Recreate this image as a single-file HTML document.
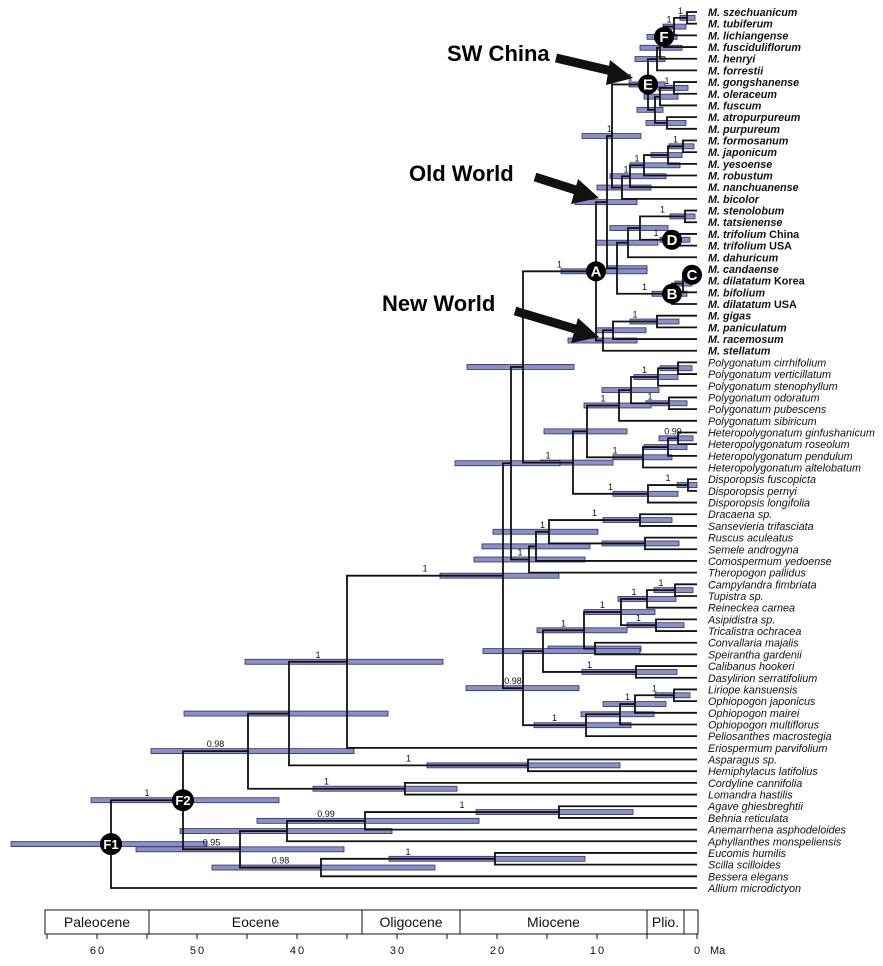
<!DOCTYPE html>
<html><head><meta charset="utf-8"><style>
html,body{margin:0;padding:0;background:#fff;}
svg{display:block;font-family:"Liberation Sans",sans-serif;}
</style></head><body>
<svg id="chart" width="883" height="966" viewBox="0 0 883 966" xmlns="http://www.w3.org/2000/svg">
<g id="bars"></g>
<g id="branches"></g>
<g id="supports"></g>
<g id="tips"></g>
<g id="circles"></g>
<g id="annot">
  <text x="447" y="61" font-size="22" font-weight="bold">SW China</text>
  <text x="409" y="181" font-size="22" font-weight="bold">Old World</text>
  <text x="382" y="311" font-size="22" font-weight="bold">New World</text>
  <g><line x1="556" y1="58" x2="616" y2="72" stroke="#111" stroke-width="9"/><polygon points="633,78 610,60 606,85" fill="#111"/></g>
  <g><line x1="535" y1="177" x2="582" y2="192" stroke="#111" stroke-width="9"/><polygon points="599,198 578,179 571,204" fill="#111"/></g>
  <g><line x1="515" y1="311" x2="582" y2="331" stroke="#111" stroke-width="9"/><polygon points="599,337 578,318 571,343" fill="#111"/></g>
</g>
<g id="axis"></g>
</svg>
<script>
const taxa = ["M. szechuanicum","M. tubiferum","M. lichiangense","M. fusciduliflorum","M. henryi","M. forrestii","M. gongshanense","M. oleraceum","M. fuscum","M. atropurpureum","M. purpureum","M. formosanum","M. japonicum","M. yesoense","M. robustum","M. nanchuanense","M. bicolor","M. stenolobum","M. tatsienense","M. trifolium|China","M. trifolium|USA","M. dahuricum","M. candaense","M. dilatatum|Korea","M. bifolium","M. dilatatum|USA","M. gigas","M. paniculatum","M. racemosum","M. stellatum",
"Polygonatum cirrhifolium","Polygonatum verticillatum","Polygonatum stenophyllum","Polygonatum odoratum","Polygonatum pubescens","Polygonatum sibiricum","Heteropolygonatum ginfushanicum","Heteropolygonatum roseolum","Heteropolygonatum pendulum","Heteropolygonatum altelobatum","Disporopsis fuscopicta","Disporopsis pernyi","Disporopsis longifolia","Dracaena  sp.","Sansevieria trifasciata","Ruscus aculeatus","Semele androgyna","Comospermum yedoense","Theropogon  pallidus","Campylandra fimbriata","Tupistra  sp.","Reineckea  carnea","Asipidistra  sp.","Tricalistra  ochracea","Convallaria majalis","Speirantha  gardenii","Calibanus  hookeri","Dasylirion  serratifolium","Liriope  kansuensis","Ophiopogon  japonicus","Ophiopogon  mairei","Ophiopogon  multiflorus","Peliosanthes  macrostegia","Eriospermum parvifolium","Asparagus  sp.","Hemiphylacus latifolius","Cordyline cannifolia","Lomandra  hastilis","Agave  ghiesbreghtii","Behnia  reticulata","Anemarrhena  asphodeloides","Aphyllanthes  monspeliensis","Eucomis  humilis","Scilla  scilloides","Bessera  elegans","Allium  microdictyon"];
const nodeNames = ["n1","n2","n3","n4","n5","g1","g2","g3","g4","E","f1","f2","f3","f4","f5","ow1","d1","D","d2","d3","C","b1","B","ow2","OW","nw1","nw2","NW","A","p1","p2","p3","p4","p5","h1","h2","h3","pg1","ds1","ds2","PG","N523","dr","rs","n549","n536","n529","N511","cv1","cv2","cv3","cv4","cs","cv5","cd","cv6","o1","o2","o3","o4","N98","Ncore","n347","ah","n289","cl","n248","ag","n365","n287","es","n321","n240","F2","F1"];
const nodeKids = ["t0,t1","n1,t2","n2,t3","n3,t4","n4,t5","t6,t7","g1,t8","t9,t10","g2,g3","n5,g4","t11,t12","f1,t13","f2,t14","f3,t15","f4,t16","E,f5","t17,t18","t19,t20","d1,D","d2,t21","t22,t23","C,t24","b1,t25","d3,B","ow1,ow2","t26,t27","nw1,t28","nw2,t29","OW,NW","t30,t31","p1,t32","t33,t34","p2,p3","p4,t35","t36,t37","h1,t38","h2,t39","p5,h3","t40,t41","ds1,t42","pg1,ds2","A,PG","t43,t44","t45,t46","dr,rs","n549,t47","n536,t48","N523,n529","t49,t50","cv1,t51","t52,t53","cv2,cv3","t54,t55","cv4,cs","t56,t57","cv5,cd","t58,t59","o1,t60","o2,t61","o3,t62","cv6,o4","N511,N98","Ncore,t63","t64,t65","n347,ah","t66,t67","n289,cl","t68,t69","ag,t70","n365,t71","t72,t73","es,t74","n287,n321","n248,n240","F2,t75"];
const nodeAge = [1.0,2.3,3.3,3.7,4.0,2.3,3.7,3.0,4.2,4.9,1.4,2.9,5.3,6.7,7.5,8.5,1.2,2.5,5.7,6.9,0.5,1.4,2.5,8.0,9.0,4.0,8.4,9.4,10.1,1.9,3.9,2.8,6.6,7.8,1.9,2.9,5.4,11.0,0.9,4.9,12.4,17.4,5.7,5.2,14.8,16.1,16.8,18.6,2.2,5.0,4.1,7.6,10.2,11.3,6.1,15.4,2.3,6.2,7.7,11.1,17.4,19.4,35.0,16.9,40.8,29.2,44.9,13.8,33.2,41.0,20.2,37.6,45.7,51.4,58.6];
const hpdOld = [1.7,3.4,5.0,5.7,6.2,3.9,5.3,5.1,6.0,6.8,2.8,4.6,6.7,8.7,10.0,11.5,2.7,3.7,8.7,10.1,1.1,2.2,4.5,9.0,12.2,6.7,10.1,12.9,13.6,3.7,6.3,5.1,9.5,11.3,3.8,5.3,8.4,15.3,2.0,8.4,15.7,23.0,9.4,9.5,20.4,21.5,22.3,24.2,4.3,7.9,7.0,11.3,14.9,16.0,11.5,21.4,4.2,9.4,11.6,16.3,23.1,25.7,45.2,27.0,51.3,38.4,54.6,22.1,44.0,51.7,30.8,48.5,56.1,60.6,68.6];
const hpdYoung = [0.2,1.1,2.0,1.5,3.2,0.9,1.9,1.1,3.4,3.2,0.3,1.5,1.7,3.1,4.6,5.6,0.2,0.7,2.9,3.9,0.0,0.5,1.0,5.0,6.0,1.8,5.1,6.0,5.0,0.5,1.9,1.0,3.8,4.6,0.4,1.0,2.5,7.0,0.0,1.9,8.4,12.3,2.5,1.8,9.9,10.7,11.2,13.7,0.4,2.1,1.3,4.2,5.6,7.0,2.0,5.7,0.7,3.1,4.3,6.6,11.8,13.8,25.4,7.7,30.9,24.0,34.3,6.4,21.8,30.5,11.2,26.2,35.3,41.8,49.0];
const nodeSupport = ["1","1","","","","1","","","","1","1","","1","1","","1","1","1","","","","","1","","","1","","","1","","1","1","","1","0.99","","1","","1","1","1","","1","","1","","1","","1","1","1","1","","1","1","","1","1","","1","0.98","1","1","1","","1","0.98","1","0.99","","1","0.98","0.95","1",""];
const circleNodes = ["F","E","D","C","B","A","F1","F2"];
const circleAt = ["n3","E","D","C","B","A","F1","F2"];
const axisTicks = [60,50,40,30,20,10,0];
const epochNames = ["Paleocene","Eocene","Oligocene","Miocene","Plio."];
const epochBounds = [65,55.8,33.9,23,5.3,1.8];

const NS="http://www.w3.org/2000/svg";
const X0=697, PXMA=10.0;
function xAge(a){return X0 - a*PXMA;}
function yTip(i){return 12 + i*11.68;}
function mk(tag,attrs,parent){const e=document.createElementNS(NS,tag);for(const k in attrs)e.setAttribute(k,attrs[k]);parent.appendChild(e);return e;}
const pos={};
for(let i=0;i<taxa.length;i++) pos["t"+i]={x:X0,y:yTip(i)};
for(let i=0;i<nodeNames.length;i++){
  const ks=nodeKids[i].split(",");
  const ys=ks.map(k=>pos[k].y);
  pos[nodeNames[i]]={x:xAge(nodeAge[i]),y:(Math.min(...ys)+Math.max(...ys))/2,kids:ks};
}
const gB=document.getElementById('bars'),gR=document.getElementById('branches'),gS=document.getElementById('supports'),gT=document.getElementById('tips'),gC=document.getElementById('circles'),gA=document.getElementById('axis');
const parentOf={};
nodeNames.forEach(n=>pos[n].kids.forEach(k=>parentOf[k]=n));
for(let i=0;i<nodeNames.length;i++){
  const p=pos[nodeNames[i]];
  const r=mk('rect',{x:xAge(hpdOld[i]),y:p.y-2.5,width:(hpdOld[i]-hpdYoung[i])*PXMA,height:5,fill:'#8c8fc2',stroke:'#2c2f6c','stroke-width':0.8},gB);
  
  
}
for(let i=0;i<nodeNames.length;i++){
  const p=pos[nodeNames[i]];
  const ys=p.kids.map(k=>pos[k].y);
  const v=mk('line',{x1:p.x,x2:p.x,y1:Math.min(...ys),y2:Math.max(...ys),stroke:'#111','stroke-width':1.8},gR);
  
  
  p.kids.forEach(k=>{
    const h=mk('line',{x1:p.x-0.9,x2:pos[k].x,y1:pos[k].y,y2:pos[k].y,stroke:'#111','stroke-width':1.8},gR);
    
    
  });
  if(nodeSupport[i]){
    const par=parentOf[nodeNames[i]];
    const px=par?pos[par].x:p.x-30;
    const t=mk('text',{x:(px+p.x)/2,y:p.y-4,'font-size':9,'text-anchor':'middle',fill:'#111'},gS);
    t.textContent=nodeSupport[i];
    
    
  }
}
for(let i=0;i<taxa.length;i++){
  const t=mk('text',{x:708,y:yTip(i)+4,'font-size':10.8,'font-style':'italic',fill:'#111'},gT);
  
  
  if(i<30){
    t.setAttribute('font-weight','bold');
    const parts=taxa[i].split("|");
    const a=mk('tspan',{},t);a.textContent=parts[0];
    if(parts[1]){const b=mk('tspan',{'font-style':'normal'},t);b.textContent="  "+parts[1];b.setAttribute('xml:space','preserve');}
  } else {t.textContent=taxa[i];t.setAttribute('xml:space','preserve');}
}
for(let i=0;i<circleNodes.length;i++){
  const p=pos[circleAt[i]];
  const big=circleNodes[i].length>1;
  const rr=big?11:10;
  const c=mk('circle',{cx:p.x,cy:p.y,r:rr,fill:'#000'},gC);
  
  
  const t=mk('text',{x:p.x,y:p.y+5,'font-size':big?13:15,'font-weight':'bold','text-anchor':'middle',fill:'#fff'},gC);
  t.textContent=circleNodes[i];
  
  
}
// axis
const bx=mk('rect',{x:45,y:910,width:653,height:24,fill:'none',stroke:'#111','stroke-width':1},gA);


const epochPx=[45,149,362,460,647,684];
for(let i=0;i<epochNames.length;i++){
  if(i>0){const l=mk('line',{x1:epochPx[i],x2:epochPx[i],y1:910,y2:934,stroke:'#111','stroke-width':1},gA);}
  const t=mk('text',{x:(epochPx[i]+epochPx[i+1])/2,y:927,'font-size':14,'text-anchor':'middle',fill:'#111'},gA);
  t.textContent=epochNames[i];
  
  
}
const lp=mk('line',{x1:684,x2:684,y1:910,y2:934,stroke:'#111','stroke-width':1},gA);


for(let a=65;a>=0;a-=5){
  const x=xAge(a);
  if(x<45)continue;
  const tk=mk('line',{x1:x,x2:x,y1:934,y2:939,stroke:'#111','stroke-width':1},gA);
  
  
}
axisTicks.forEach(a=>{
  const t=mk('text',{x:xAge(a)+1,y:954,'font-size':11,'text-anchor':'middle','letter-spacing':'2',fill:'#111'},gA);
  t.textContent=String(a);
  
  
});
const ma=mk('text',{x:710,y:954,'font-size':11,fill:'#111'},gA);
ma.textContent="Ma";


</script>
</body></html>
